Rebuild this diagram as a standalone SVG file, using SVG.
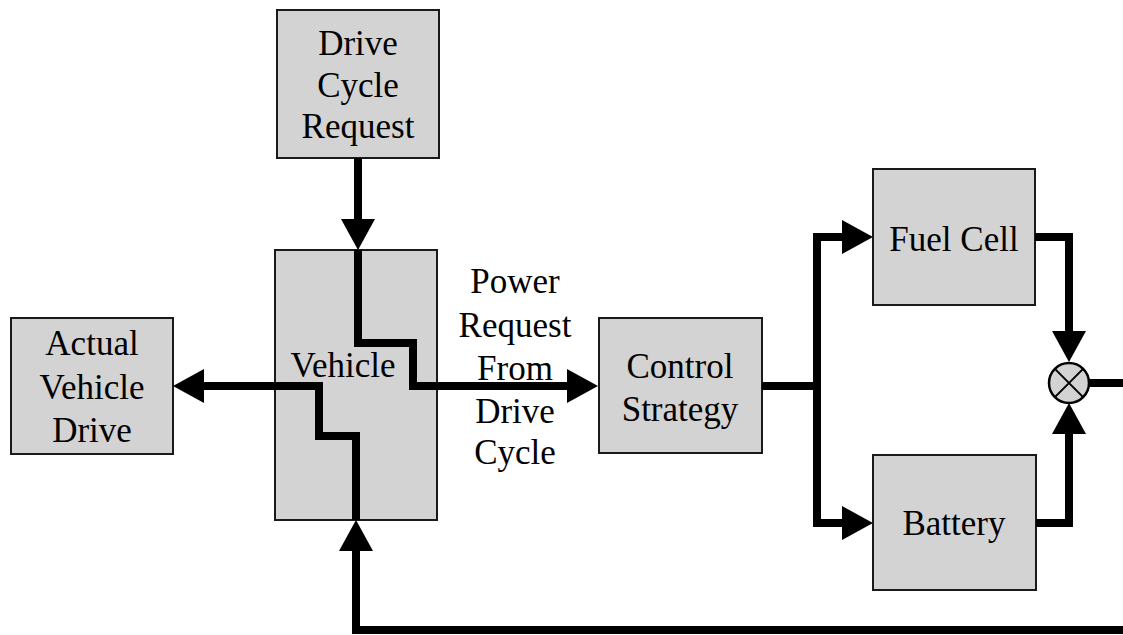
<svg xmlns="http://www.w3.org/2000/svg" width="1123" height="635" viewBox="0 0 1123 635">
<style>
.box{fill:#d3d3d3;stroke:#1a1a1a;stroke-width:2}
.lbl{font-family:"Liberation Serif","Times New Roman",serif;font-size:35px;fill:#000;text-anchor:middle}
.wire{fill:none;stroke:#000;stroke-width:8;stroke-linejoin:miter;stroke-linecap:butt}
.arr{marker-end:url(#ah)}
</style>
<defs>
<marker id="ah" markerUnits="userSpaceOnUse" markerWidth="32" markerHeight="34" refX="0" refY="17" orient="auto" overflow="visible">
<path d="M0,0 L31,17 L0,34 Z" fill="#000"/>
</marker>
</defs>
<rect width="1123" height="635" fill="#fff"/>
<g id="drive-cycle-request">
<rect class="box" x="277" y="10" width="162" height="148"/>
<text class="lbl" x="358" y="55">Drive</text>
<text class="lbl" x="358" y="97">Cycle</text>
<text class="lbl" x="358" y="138">Request</text>
</g>
<g id="vehicle">
<rect class="box" x="275" y="250" width="162" height="270"/>
</g>
<g id="actual-vehicle-drive">
<rect class="box" x="11" y="318" width="162" height="136"/>
<text class="lbl" x="92" y="355">Actual</text>
<text class="lbl" x="92" y="399">Vehicle</text>
<text class="lbl" x="92" y="442">Drive</text>
</g>
<g id="control-strategy">
<rect class="box" x="599" y="318" width="163" height="135"/>
<text class="lbl" x="680" y="378">Control</text>
<text class="lbl" x="680" y="421">Strategy</text>
</g>
<g id="fuel-cell">
<rect class="box" x="873" y="169" width="162" height="136"/>
<text class="lbl" x="954" y="251">Fuel Cell</text>
</g>
<g id="battery">
<rect class="box" x="873" y="455" width="163" height="135"/>
<text class="lbl" x="954" y="535">Battery</text>
</g>
<g id="connectors">
<path class="wire arr" d="M358,158 V219"/>
<path class="wire arr" d="M358,250 V343 H413 V386 H567"/>
<path class="wire arr" d="M356,520 V436 H319 V386 H204"/>
<path class="wire arr" d="M1123,630 H356 V551"/>
<path class="wire arr" d="M762,386 H817 V237 H842"/>
<path class="wire arr" d="M817,386 V523 H842"/>
<path class="wire arr" d="M1035,237 H1069 V331"/>
<path class="wire arr" d="M1036,523 H1069 V434"/>
<path class="wire" d="M1089,383 H1123"/>
</g>
<g id="vehicle-label">
<text class="lbl" x="343" y="377">Vehicle</text>
</g>
<g id="power-request-label">
<text class="lbl" x="515" y="293">Power</text>
<text class="lbl" x="515" y="337">Request</text>
<text class="lbl" x="515" y="380">From</text>
<text class="lbl" x="515" y="423">Drive</text>
<text class="lbl" x="515" y="464">Cycle</text>
</g>
<g id="multiplier">
<circle cx="1069" cy="383" r="20" fill="#d3d3d3" stroke="#000" stroke-width="2.5"/>
<path d="M1054.9,368.9 L1083.1,397.1 M1083.1,368.9 L1054.9,397.1" stroke="#000" stroke-width="2"/>
</g>
</svg>
